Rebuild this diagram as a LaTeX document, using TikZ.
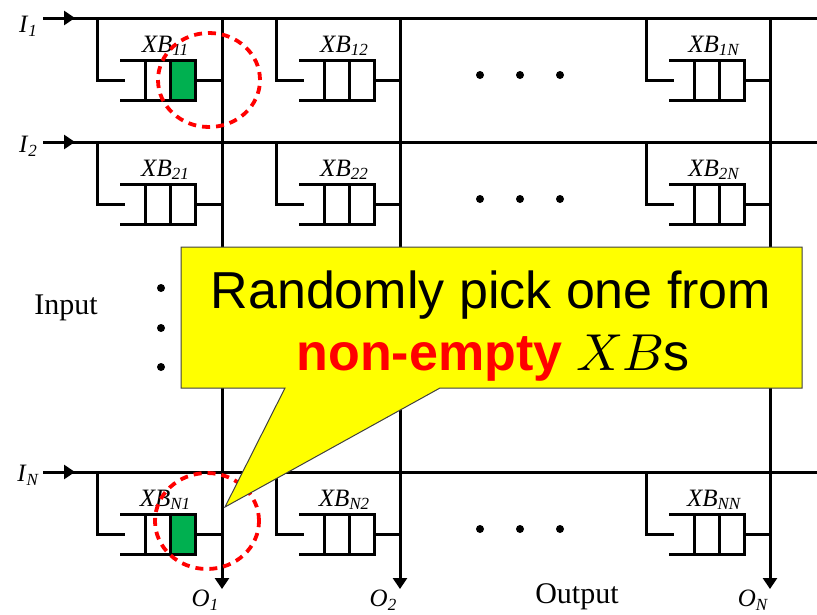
\documentclass[tikz,border=0pt]{standalone}
\usepackage{fontspec}
\usepackage{unicode-math}
\setmainfont{Liberation Serif}
\newfontfamily\calloutfont{Liberation Sans}
\usetikzlibrary{arrows.meta}

\definecolor{xbgreen}{RGB}{0,176,80}
\definecolor{calloutyellow}{RGB}{255,255,0}

\newcommand{\xbname}[1]{\textit{XB}\raisebox{-0.3ex}{\fontsize{17}{17}\selectfont\textit{#1}}}
\newcommand{\portname}[2]{\textit{#1}\raisebox{-0.35ex}{\fontsize{17}{17}\selectfont\textit{#2}}}

\tikzset{
  wire/.style={line width=3pt},
  tiparrow/.style={-{Triangle[width=14pt,length=11pt]}},
  pickring/.style={red, line width=3.8pt, dash pattern=on 8pt off 6pt},
  lbl/.style={font=\fontsize{25}{30}\selectfont, inner sep=0pt},
  biglbl/.style={font=\fontsize{30}{34}\selectfont, inner sep=0pt},
  calloutline/.style={font=\calloutfont\fontsize{52}{62}\selectfont, inner sep=0pt, anchor=base},
}

\begin{document}
\begin{tikzpicture}[x=1pt,y=-1pt]
  \useasboundingbox (0,0) rectangle (817,614);
  % input rows
  \foreach \r/\ri/\ly in {18/1/26,142/2/146,472/N/475} {
    \draw[wire] (43,\r) -- (817,\r);
    \draw[wire,tiparrow] (43,\r) -- (75,\r);
    \node[lbl] (in\ri) at (28,\ly) {\portname{I}{\ri}};
  }
  % output columns
  \foreach \v/\oj in {222/1,400/2,770/N} {
    \draw[wire,tiparrow] (\v,18) -- (\v,589);
    \node[lbl] (out\oj) at (\v-17,600) {\portname{O}{\oj}};
  }
  % occupied buffers
  \fill[xbgreen] (170,60) rectangle (195,100);
  \fill[xbgreen] (170,514) rectangle (195,554);
  % crosspoint buffers
  \foreach \r/\ri in {18/1,142/2,472/N}
    \foreach \b/\cj in {97/1,276/2,646/N} {
      \begin{scope}[shift={(\b,\r)}]
        \draw[wire] (0,0) -- (0,62) -- (28,62);
        \draw[wire] (23,42) -- (98,42) -- (98,82) -- (23,82);
        \draw[wire] (48,42) -- (48,82) (73,42) -- (73,82);
        \draw[wire] (98,62) -- (125,62);
        \node[lbl] (xb\ri\cj) at (68,28) {\xbname{\ri\cj}};
      \end{scope}
    }
  % dots
  \foreach \r in {18,142,472}
    \foreach \x in {480,520,560}
      \fill (\x,\r+57) circle (4pt);
  \foreach \y in {288,328,367}
    \fill (161,\y) circle (4pt);
  \node[biglbl] (input) at (66,308) {Input};
  \node[biglbl] (output) at (577,597) {Output};
  % picked buffers
  \draw[pickring] (209,80) ellipse (51pt and 47pt);
  \draw[pickring] (207,521) ellipse (52pt and 48pt);
  % callout
  \coordinate (tip) at (225,507);
  \filldraw[fill=calloutyellow, draw=black!75, line width=1pt]
    (181,247) -- (802,247) -- (802,388) -- (440,388) -- (tip)
    -- (285,388) -- (181,388) -- cycle;
  \node[calloutline] (pickline) at (491,308) {Randomly pick one from};
  \node[calloutline] (xbline) at (493,370)
    {\textcolor{red}{\bfseries non-empty} $XB$s};
\end{tikzpicture}
\end{document}
